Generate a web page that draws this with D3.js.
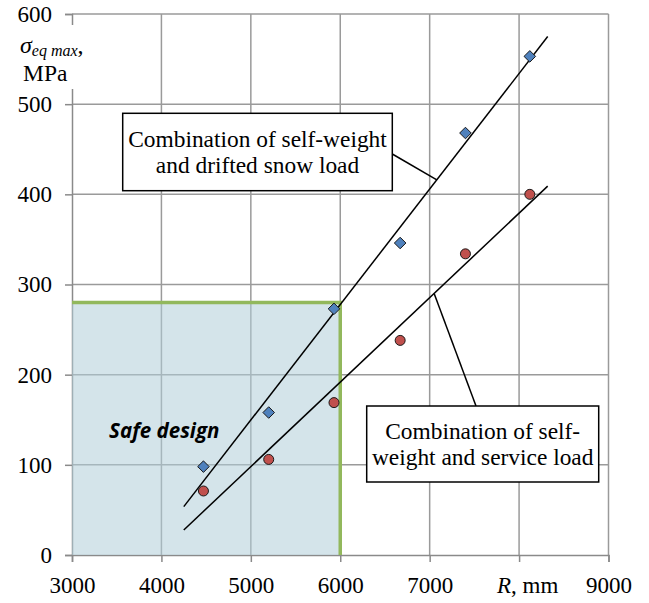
<!DOCTYPE html>
<html>
<head>
<meta charset="utf-8">
<script src="https://cdn.jsdelivr.net/npm/d3@7"></script>
<style>
  html, body { margin: 0; padding: 0; background: #fff; }
  svg { display: block; }
  .serif { font-family: "Liberation Serif", Tinos, "Times New Roman", Times, "DejaVu Serif", serif; }
</style>
</head>
<body>
<svg id="chart" width="649" height="603"></svg>
<script>
// Span radius R (mm) and maximum equivalent stress (MPa) for the two load cases
const spanR = [4470, 5200, 5930, 6670, 7400, 8120];
const snowLoad = [98, 158, 273, 346, 468, 553];
const serviceLoad = [71, 106, 169, 238, 334, 400];

// Axis ticks
const xTicks = [3000, 4000, 5000, 6000, 7000, 8000, 9000];
const yTicks = [0, 100, 200, 300, 400, 500, 600];

// Safe design region (R limit, stress limit)
const safeR = [3000, 6000];
const safeSigma = [0, 280];

// Range over which the linear trend lines are drawn
const trendRange = [4250, 8320];

const svg = d3.select("#chart");

const x = d3.scaleLinear().domain([3000, 9000]).range([72, 608.5]);
const y = d3.scaleLinear().domain([0, 600]).range([555, 14]);

// least-squares fit
function linFit(xs, ys) {
  const mx = d3.mean(xs), my = d3.mean(ys);
  let sxy = 0, sxx = 0;
  xs.forEach((v, i) => { sxy += (v - mx) * (ys[i] - my); sxx += (v - mx) * (v - mx); });
  const b = sxy / sxx;
  return v => my + b * (v - mx);
}
const snowFit = linFit(spanR, snowLoad);
const serviceFit = linFit(spanR, serviceLoad);

// grid
const gridColor = "#9a9a9a";
svg.append("g").selectAll("line.v").data(xTicks.slice(1)).join("line")
  .attr("x1", d => x(d)).attr("x2", d => x(d))
  .attr("y1", y(0)).attr("y2", y(600))
  .attr("stroke", gridColor).attr("stroke-width", 1.5);
svg.append("g").selectAll("line.h").data(yTicks.slice(1)).join("line")
  .attr("x1", x(3000)).attr("x2", x(9000))
  .attr("y1", d => y(d)).attr("y2", d => y(d))
  .attr("stroke", gridColor).attr("stroke-width", 1.5);

// axes
const xAxis = d3.axisBottom(x).tickValues(xTicks).tickSize(7).tickPadding(15)
  .tickFormat(d => d === 8000 ? "" : d);
const yAxis = d3.axisLeft(y).tickValues(yTicks).tickSize(7).tickPadding(13)
  .tickFormat(d => d);

function styleAxis(g) {
  g.attr("font-family", null);
  g.select(".domain").attr("stroke", "#8a8a8a").attr("stroke-width", 1.5);
  g.selectAll(".tick line").attr("stroke", "#8a8a8a").attr("stroke-width", 1.5);
  g.selectAll(".tick text").attr("class", "serif").attr("font-size", 23).attr("fill", "#000");
}
svg.append("g").attr("transform", `translate(0,${y(0)})`)
  .call(xAxis.tickSizeOuter(7)).call(styleAxis);
svg.append("g").attr("transform", `translate(${x(3000)},0)`)
  .call(yAxis.tickSizeOuter(7)).call(styleAxis);

// y axis title on a white patch
svg.append("rect").attr("x", 16).attr("y", 25).attr("width", 74).attr("height", 64).attr("fill", "#fff");
const yt = svg.append("text").attr("class", "serif").attr("x", 20).attr("y", 53).attr("font-size", 24);
yt.append("tspan").attr("font-style", "italic").text("σ");
yt.append("tspan").attr("font-style", "italic").attr("font-size", 16).attr("dy", 3).text("eq max");
yt.append("tspan").attr("dy", -3).text(",");
svg.append("text").attr("class", "serif").attr("x", 23).attr("y", 81).attr("font-size", 23.5).text("MPa");

// x axis title in place of the 8000 label
const xt = svg.append("text").attr("class", "serif").attr("x", 497).attr("y", 593).attr("font-size", 23);
xt.append("tspan").attr("font-style", "italic").text("R");
xt.append("tspan").text(", mm");

// safe design region
svg.append("rect")
  .attr("x", x(safeR[0])).attr("y", y(safeSigma[1]))
  .attr("width", x(safeR[1]) - x(safeR[0]))
  .attr("height", y(safeSigma[0]) - y(safeSigma[1]))
  .attr("fill", "#b0cdd8").attr("fill-opacity", 0.55);
svg.append("path")
  .attr("d", d3.line()([[x(safeR[0]), y(safeSigma[1])], [x(safeR[1]), y(safeSigma[1])], [x(safeR[1]), y(safeSigma[0])]]))
  .attr("fill", "none").attr("stroke", "#92b85c").attr("stroke-width", 3.5);

svg.append("text").attr("x", x(3415)).attr("y", y(130))
  .attr("font-family", "'Open Sans', sans-serif").attr("font-weight", "bold").attr("font-style", "italic")
  .attr("font-size", 20.5).text("Safe design");

// trend lines
[snowFit, serviceFit].forEach(f => {
  svg.append("line")
    .attr("x1", x(trendRange[0])).attr("y1", y(f(trendRange[0])))
    .attr("x2", x(trendRange[1])).attr("y2", y(f(trendRange[1])))
    .attr("stroke", "#000").attr("stroke-width", 1.5);
});

// markers
const diamond = d3.symbol().type(d3.symbolDiamond2).size(85);
svg.append("g").selectAll("path").data(spanR).join("path")
  .attr("d", diamond)
  .attr("transform", (d, i) => `translate(${x(d)},${y(snowLoad[i])})`)
  .attr("fill", "#4f81bd").attr("stroke", "#1a1a1a").attr("stroke-width", 1);
svg.append("g").selectAll("circle").data(spanR).join("circle")
  .attr("cx", d => x(d)).attr("cy", (d, i) => y(serviceLoad[i]))
  .attr("r", 5).attr("fill", "#c0504d").attr("stroke", "#1a1a1a").attr("stroke-width", 1);

// callout boxes
function callout(bx, by, bw, bh, lines, baselines) {
  svg.append("rect").attr("x", bx).attr("y", by).attr("width", bw).attr("height", bh)
    .attr("fill", "#fff").attr("stroke", "#000").attr("stroke-width", 1.5);
  lines.forEach((t, i) => {
    svg.append("text").attr("class", "serif").attr("x", bx + bw / 2).attr("y", baselines[i])
      .attr("text-anchor", "middle").attr("font-size", 23.4).text(t);
  });
}
// leaders
svg.append("line").attr("x1", 392.3).attr("y1", 154)
  .attr("x2", x(7080)).attr("y2", y(snowFit(7080)))
  .attr("stroke", "#000").attr("stroke-width", 1.5);
svg.append("line").attr("x1", x(7050)).attr("y1", y(serviceFit(7050)))
  .attr("x2", 476).attr("y2", 406)
  .attr("stroke", "#000").attr("stroke-width", 1.5);

callout(122.7, 113.3, 269.6, 77.4, ["Combination of self-weight", "and drifted snow load"], [146.7, 173.3]);
callout(366.7, 406, 232, 76, ["Combination of self-", "weight and service load"], [439.3, 465]);
</script>
</body>
</html>
